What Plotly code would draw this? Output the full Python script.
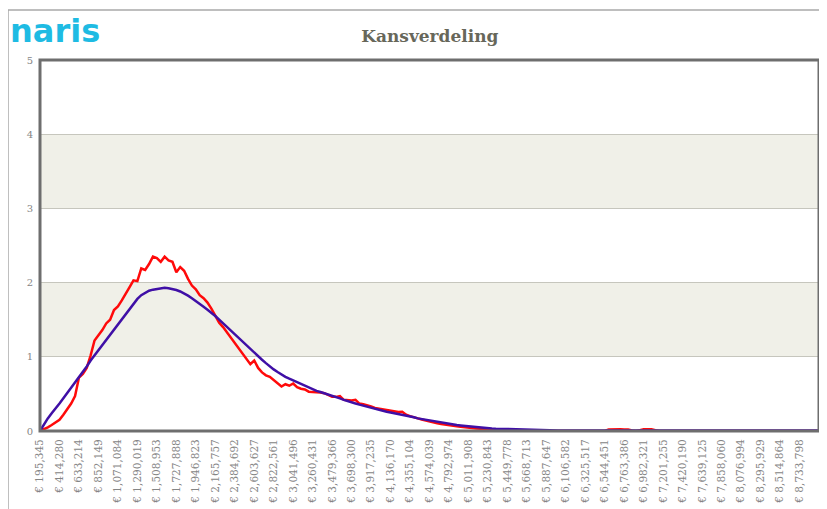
import plotly.graph_objects as go

# ---- data ----
tick_labels = [
    "€ 195,345", "€ 414,280", "€ 633,214", "€ 852,149", "€ 1,071,084",
    "€ 1,290,019", "€ 1,508,953", "€ 1,727,888", "€ 1,946,823", "€ 2,165,757",
    "€ 2,384,692", "€ 2,603,627", "€ 2,822,561", "€ 3,041,496", "€ 3,260,431",
    "€ 3,479,366", "€ 3,698,300", "€ 3,917,235", "€ 4,136,170", "€ 4,355,104",
    "€ 4,574,039", "€ 4,792,974", "€ 5,011,908", "€ 5,230,843", "€ 5,449,778",
    "€ 5,668,713", "€ 5,887,647", "€ 6,106,582", "€ 6,325,517", "€ 6,544,451",
    "€ 6,763,386", "€ 6,982,321", "€ 7,201,255", "€ 7,420,190", "€ 7,639,125",
    "€ 7,858,060", "€ 8,076,994", "€ 8,295,929", "€ 8,514,864", "€ 8,733,798",
]
points_per_label = 5

red_values = [
    0, 0.02, 0.05, 0.08, 0.11, 0.15, 0.22, 0.30, 0.37, 0.47,
    0.72, 0.77, 0.85, 1.02, 1.22, 1.29, 1.36, 1.45, 1.50, 1.63,
    1.68, 1.76, 1.86, 1.94, 2.03, 2.02, 2.19, 2.17, 2.25, 2.35,
    2.33, 2.28, 2.35, 2.30, 2.28, 2.14, 2.21, 2.16, 2.05, 1.96,
    1.91, 1.83, 1.79, 1.73, 1.65, 1.56, 1.46, 1.40, 1.33, 1.26,
    1.19, 1.11, 1.04, 0.97, 0.90, 0.95, 0.85, 0.79, 0.75, 0.73,
    0.69, 0.64, 0.60, 0.63, 0.61, 0.64, 0.59, 0.57, 0.56, 0.53,
    0.53, 0.53, 0.52, 0.51, 0.48, 0.46, 0.46, 0.47, 0.42, 0.41,
    0.41, 0.42, 0.37, 0.36, 0.35, 0.33, 0.31, 0.30, 0.29, 0.28,
    0.27, 0.26, 0.255, 0.26, 0.22, 0.20, 0.18, 0.17, 0.155, 0.14,
    0.13, 0.12, 0.105, 0.095, 0.085, 0.077, 0.07, 0.065, 0.058, 0.05,
    0.045, 0.04, 0.033, 0.03, 0.028, 0.027, 0.02, 0.012, 0.01, 0.012,
    0.01, 0.008, 0.005, 0.003, 0, 0, 0, 0, 0, 0,
    0, 0, 0, 0, 0, 0, 0, 0, 0, 0,
    0, 0, 0, 0, 0, 0, 0.02, 0.025, 0.02, 0.025,
    0.02, 0.02, 0.008, 0, 0.01, 0.025, 0.022, 0.025, 0.012, 0,
    0, 0, 0, 0, 0, 0, 0, 0, 0, 0,
    0, 0, 0, 0, 0, 0, 0, 0, 0, 0,
    0, 0, 0, 0, 0, 0, 0, 0, 0, 0,
    0, 0, 0, 0, 0, 0, 0, 0, 0, 0,
    0,
]

blue_values = [
    0, 0.09, 0.17, 0.24, 0.30, 0.37, 0.44, 0.51, 0.58, 0.65,
    0.72, 0.80, 0.87, 0.95, 1.02, 1.09, 1.16, 1.23, 1.30, 1.37,
    1.44, 1.51, 1.58, 1.65, 1.72, 1.78, 1.83, 1.865, 1.89, 1.905,
    1.915, 1.925, 1.93, 1.925, 1.915, 1.90, 1.88, 1.855, 1.825, 1.79,
    1.755, 1.715, 1.675, 1.635, 1.595, 1.55, 1.50, 1.45, 1.40, 1.35,
    1.30, 1.255, 1.21, 1.16, 1.11, 1.06, 1.01, 0.96, 0.915, 0.87,
    0.83, 0.795, 0.76, 0.73, 0.705, 0.68, 0.655, 0.63, 0.605, 0.58,
    0.56, 0.54, 0.525, 0.51, 0.49, 0.47, 0.455, 0.44, 0.42, 0.40,
    0.39, 0.37, 0.355, 0.34, 0.325, 0.31, 0.295, 0.285, 0.27, 0.26,
    0.25, 0.24, 0.23, 0.22, 0.205, 0.195, 0.185, 0.17, 0.16, 0.15,
    0.14, 0.13, 0.12, 0.11, 0.10, 0.095, 0.088, 0.08, 0.074, 0.068,
    0.062, 0.057, 0.051, 0.046, 0.041, 0.037, 0.034, 0.031, 0.029, 0.027,
    0.025, 0.023, 0.021, 0.019, 0.017, 0.015, 0.013, 0.012, 0.011, 0.010,
    0.009, 0.009, 0.009, 0.008, 0.008, 0.008, 0.008, 0.008, 0.007, 0.007,
    0.007, 0.007, 0.007, 0.007, 0.007, 0.007, 0.006, 0.006, 0.006, 0.006,
    0.006, 0.006, 0.006, 0.006, 0.006, 0.006, 0.006, 0.006, 0.006, 0.006,
    0.006, 0.006, 0.006, 0.006, 0.006, 0.006, 0.006, 0.006, 0.006, 0.006,
    0.006, 0.006, 0.006, 0.006, 0.006, 0.006, 0.006, 0.006, 0.006, 0.006,
    0.006, 0.006, 0.006, 0.006, 0.006, 0.006, 0.006, 0.006, 0.006, 0.006,
    0.006, 0.006, 0.006, 0.006, 0.006, 0.006, 0.006, 0.006, 0.006, 0.006,
    0.006,
]

title_text = "Kansverdeling"
logo_text = "naris"

# ---- figure ----
x_idx = list(range(len(red_values)))
tick_vals = [k * points_per_label for k in range(len(tick_labels))]

fig = go.Figure()
fig.add_trace(go.Scatter(x=x_idx, y=red_values, mode="lines",
                         line=dict(color="#ff0a0a", width=2.5), hoverinfo="skip"))
fig.add_trace(go.Scatter(x=x_idx, y=blue_values, mode="lines",
                         line=dict(color="#3f0fa6", width=2.5), hoverinfo="skip"))

band_color = "#f0f0e8"
shapes = [
    dict(type="rect", xref="paper", yref="y", x0=0, x1=1, y0=1, y1=2,
         fillcolor=band_color, line=dict(width=0), layer="below"),
    dict(type="rect", xref="paper", yref="y", x0=0, x1=1, y0=3, y1=4,
         fillcolor=band_color, line=dict(width=0), layer="below"),
    # plot frame
    dict(type="rect", xref="paper", yref="paper", x0=0, x1=1, y0=0, y1=1,
         line=dict(color="#6e6e6e", width=3), layer="above"),
    # outer page frame (left + top lines)
    dict(type="line", xref="paper", yref="paper", x0=-0.0411, x1=-0.0411, y0=-0.25, y1=1.1348,
         line=dict(color="#a8a8a8", width=1.5)),
    dict(type="line", xref="paper", yref="paper", x0=-0.0411, x1=1.02, y0=1.1348, y1=1.1348,
         line=dict(color="#a8a8a8", width=1.5)),
]

fig.update_layout(
    width=819, height=501,
    margin=dict(l=32, r=8, t=52, b=78, autoexpand=False),
    paper_bgcolor="white", plot_bgcolor="white",
    showlegend=False,
    shapes=shapes,
    title=dict(text="<b>" + title_text + "</b>", x=0.515, xanchor="center",
               y=0.945, yanchor="middle",
               font=dict(family="DejaVu Serif", size=17, color="#67675a")),
    annotations=[
        dict(text="<b>" + logo_text + "</b>", xref="paper", yref="paper",
             x=-0.0405, y=1.135, xanchor="left", yanchor="top", showarrow=False,
             font=dict(family="DejaVu Sans", size=32, color="#1ebbe3")),
    ],
    xaxis=dict(
        range=[0, len(red_values) - 1],
        tickmode="array", tickvals=tick_vals, ticktext=tick_labels,
        tickangle=-90, showgrid=False, zeroline=False,
        ticks="outside", ticklen=3, tickcolor="rgba(0,0,0,0)",
        tickfont=dict(family="DejaVu Serif", size=10.5, color="#858585"),
        showline=False, automargin=False,
    ),
    yaxis=dict(
        range=[0, 5], dtick=1, tick0=0,
        showgrid=True, gridcolor="#c6c6bd", gridwidth=1, zeroline=False,
        ticks="outside", ticklen=4, tickcolor="rgba(0,0,0,0)",
        tickfont=dict(family="DejaVu Serif", size=10, color="#858585"),
        showline=False, automargin=False,
    ),
)

fig.write_html("out.html")
